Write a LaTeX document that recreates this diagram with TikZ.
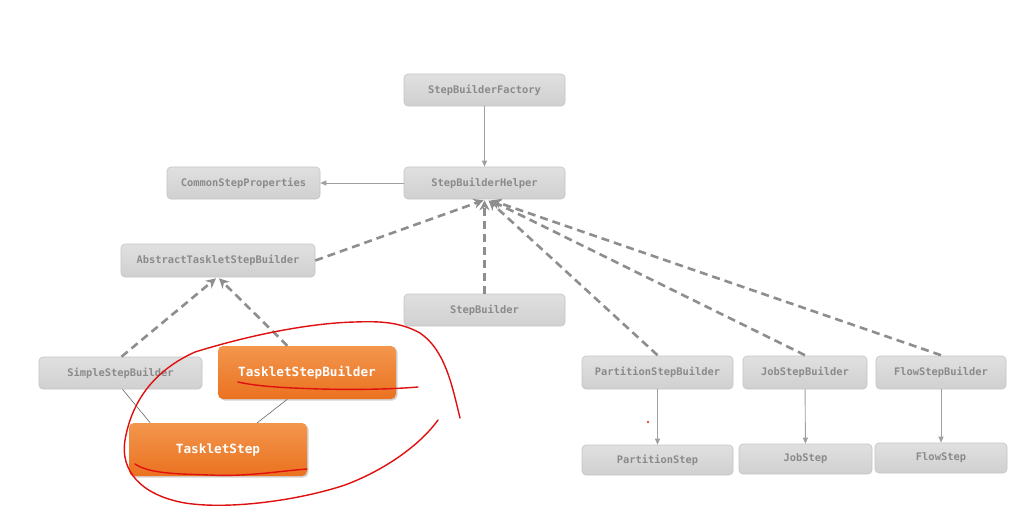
\documentclass[tikz,border=0pt]{standalone}
\usepackage{fontspec}
\setmonofont{DejaVu Sans Mono}
\usetikzlibrary{arrows.meta,calc,shadows}
\definecolor{boxtop}{HTML}{E0E0E0}
\definecolor{boxbot}{HTML}{D0D0D0}
\definecolor{boxline}{HTML}{C4C4C4}
\definecolor{txtgray}{HTML}{8A8A8A}
\definecolor{dashgray}{HTML}{8E8E8E}
\definecolor{thingray}{HTML}{A0A0A0}
\definecolor{orangetop}{HTML}{F3964D}
\definecolor{orangebot}{HTML}{EA7220}
\definecolor{penred}{HTML}{E01010}
\tikzset{
  graybox/.style={draw=boxline, line width=0.6pt, rounded corners=4pt, top color=boxtop, bottom color=boxbot,
    text=txtgray, font=\ttfamily\bfseries\fontsize{10.4}{12}\selectfont, inner sep=0pt},
  orangebox/.style={draw=none, rounded corners=5pt, top color=orangetop, bottom color=orangebot,
    text=white, font=\ttfamily\bfseries\fontsize{12.7}{14}\selectfont, inner sep=0pt,
    drop shadow={shadow xshift=1.5pt, shadow yshift=-1.5pt, opacity=0.35}},
  dasharrow/.style={draw=dashgray, line width=2.6pt, dash pattern=on 8pt off 5pt, -{Stealth[length=10pt,width=10pt]}},
  thinarrow/.style={draw=thingray, line width=0.9pt, -{Triangle[length=6pt,width=5pt]}},
  thinline/.style={draw=black!60, line width=0.6pt},
  redpen/.style={draw=penred, line width=1.4pt, line cap=round, line join=round},
}
\begin{document}
\begin{tikzpicture}[x=1pt,y=-1pt]
\useasboundingbox[fill=white] (0,0) rectangle (1030,530);

\node[graybox, minimum width=161pt, minimum height=32pt] (fac) at (484.5,90) {StepBuilderFactory};
\node[graybox, minimum width=161pt, minimum height=32pt] (hlp) at (484.5,183) {StepBuilderHelper};
\node[graybox, minimum width=153pt, minimum height=32pt] (csp) at (243.5,183) {CommonStepProperties};
\node[graybox, minimum width=194pt, minimum height=33pt] (atsb) at (218,260.5) {AbstractTaskletStepBuilder};
\node[graybox, minimum width=161pt, minimum height=32pt] (sb) at (484.5,310) {StepBuilder};
\node[graybox, minimum width=163pt, minimum height=32pt] (ssb) at (120.5,373) {SimpleStepBuilder};
\node[graybox, minimum width=151pt, minimum height=33pt] (psb) at (657.5,372.5) {PartitionStepBuilder};
\node[graybox, minimum width=124pt, minimum height=33pt] (jsb) at (805,372.5) {JobStepBuilder};
\node[graybox, minimum width=130pt, minimum height=33pt] (fsb) at (941,372.5) {FlowStepBuilder};
\node[graybox, minimum width=151pt, minimum height=30pt] (ps) at (657.5,460) {PartitionStep};
\node[graybox, minimum width=133pt, minimum height=30pt] (js) at (805.5,459) {JobStep};
\node[graybox, minimum width=132pt, minimum height=30pt] (fs) at (941,458) {FlowStep};

\node[orangebox, minimum width=178pt, minimum height=53pt] (tsbld) at (307,372.5) {TaskletStepBuilder};
\node[orangebox, minimum width=178pt, minimum height=53pt] (ts) at (218,449.5) {TaskletStep};
\draw[thinline] ($(ssb.south)+(2,0)$) -- ($(ts.north west)!0.12!(ts.north east)$);
\draw[thinline] ($(tsbld.south west)!0.39!(tsbld.south east)$) -- ($(ts.north west)!0.72!(ts.north east)$);

% thin arrows
\draw[thinarrow] (fac) -- (hlp);
\draw[thinarrow] (hlp) -- (csp);
\draw[thinarrow] (psb) -- (ps);
\draw[thinarrow] (jsb) -- (js);
\draw[thinarrow] (fsb) -- (fs);

% dashed arrows
\draw[dasharrow] (atsb.east) -- ($(hlp.south)+(-1,1)$);
\draw[dasharrow] (sb.north) -- ($(hlp.south)+(0,1)$);
\draw[dasharrow] ($(psb.north)+(0,-0.5)$) -- ($(hlp.south)+(4,1)$);
\draw[dasharrow] ($(jsb.north)+(0,-0.5)$) -- ($(hlp.south)+(6,1)$);
\draw[dasharrow] ($(fsb.north)+(0,-0.5)$) -- ($(hlp.south)+(7,1)$);
\draw[dasharrow] ($(ssb.north)+(1,0)$) -- ($(atsb.south)+(-2,1)$);
\draw[dasharrow] ($(tsbld.north west)!0.39!(tsbld.north east)$) -- ($(atsb.south)+(1,1)$);

% red annotations
\draw[redpen] (460,418) .. controls (452,385) and (445,350) .. (420,333)
  .. controls (400,322) and (380,321) .. (355,322)
  .. controls (310,323) and (250,335) .. (195,352)
  .. controls (155,370) and (132,400) .. (125,440)
  .. controls (120,470) and (140,495) .. (185,503)
  .. controls (230,510) and (300,500) .. (345,485)
  .. controls (385,470) and (420,445) .. (438,420);
\draw[redpen] (238,382) .. controls (260,387) and (290,388) .. (320,389)
  .. controls (360,390) and (395,389) .. (418,387);
\draw[redpen] (135,464) .. controls (150,474) and (180,474) .. (210,475)
  .. controls (245,477) and (280,471) .. (307,469);
\fill[penred] (648,422) circle (1.2);
\end{tikzpicture}
\end{document}
